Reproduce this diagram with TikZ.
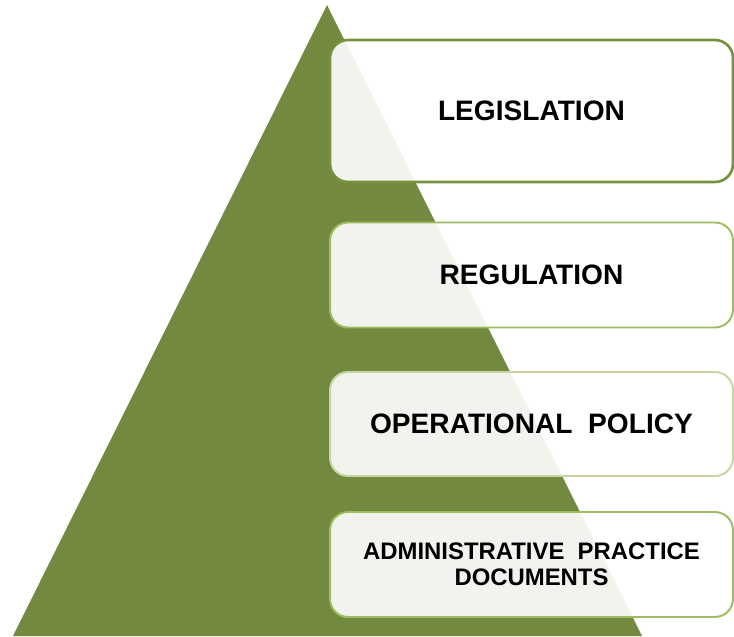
\documentclass[tikz,border=0pt]{standalone}
\usepackage{fontspec}
\setmainfont{Liberation Sans}
\usepackage{tikz}

\definecolor{pyramid}{RGB}{116,137,64}
\definecolor{edgedark}{RGB}{118,146,60}
\definecolor{edgemid}{RGB}{158,188,96}
\definecolor{edgelight}{RGB}{198,215,163}

\begin{document}
\begin{tikzpicture}[x=0.02cm,y=-0.02cm,
  tier/.style={rectangle,rounded corners=0.36cm,fill=white,fill opacity=0.9,
    text opacity=1,minimum width=8.06cm,line width=1.1pt,align=center,
    font=\bfseries\fontsize{16}{19}\selectfont}]
\useasboundingbox (0,0) rectangle (734,636);

\fill[pyramid] (327,5) -- (13,636) -- (642,636) -- cycle;

\node[tier,draw=edgedark,line width=1.5pt,minimum height=2.84cm] (leg) at (531.5,111) {LEGISLATION};
\node[tier,draw=edgemid,minimum height=2.1cm] (reg) at (531.5,275) {REGULATION};
\node[tier,draw=edgelight,minimum height=2.08cm] (pol) at (531.5,424) {OPERATIONAL\ \ POLICY};
\node[tier,draw=edgemid,minimum height=2.1cm,
  font=\bfseries\fontsize{13.6}{14.8}\selectfont] (doc) at (531.5,564.5) {ADMINISTRATIVE\ \ PRACTICE\\DOCUMENTS};
\end{tikzpicture}
\end{document}
